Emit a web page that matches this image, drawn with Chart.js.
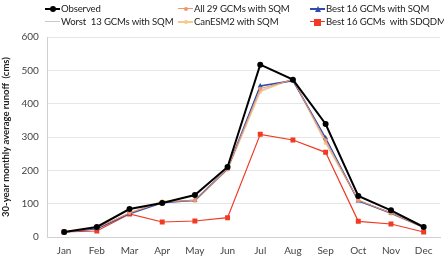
<!DOCTYPE html>
<html><head><meta charset="utf-8">
<script src="https://cdn.jsdelivr.net/npm/chart.js@4"></script>
<style>
html,body{margin:0;padding:0;background:#fff;}
#wrap{position:relative;width:444px;height:256px;overflow:hidden;}
canvas{position:absolute;left:0;top:0;}
.lg{position:absolute;font-family:Lato,"Open Sans",sans-serif;font-size:9.6px;letter-spacing:-0.15px;color:#222;white-space:pre;line-height:12px;}
.sw{position:absolute;width:15px;height:12px;}
.ln{position:absolute;left:0;top:5px;width:15px;height:0;border-top:2px solid;}
.mk{position:absolute;}
</style></head><body>
<div id="wrap"><canvas id="c" width="444" height="256"></canvas><div id="legend"></div></div>
<script>
const months = ["Jan","Feb","Mar","Apr","May","Jun","Jul","Aug","Sep","Oct","Nov","Dec"];
const observed   = [15, 30, 84, 102, 126, 210, 517, 472, 339, 123, 80, 30];
const all29SQM   = [15, 27, 72, 105, 110, 205, 445, 472, 290, 110, 72, 30];
const best16SQM  = [15, 25, 70, 103, 110, 205, 453, 469, 297, 108, 72, 30];
const worst13SQM = [15, 25, 72, 106, 108, 203, 440, 474, 285, 112, 70, 28];
const canESM2SQM = [15, 26, 72, 107, 108, 202, 436, 475, 282, 110, 70, 28];
const best16SDQDM= [15, 18, 69, 45, 48, 58, 308, 291, 254, 47, 39, 15];
const yTicks = [0,100,200,300,400,500,600];

const FONT = 'Lato, "Open Sans", sans-serif';
const series = [
 {label:"Observed", data:observed, color:"#000000", width:2, style:"circle", r:3},
 {label:"All 29 GCMs with SQM", data:all29SQM, color:"#F4956A", width:1, style:"circle", r:2},
 {label:"Best 16 GCMs with SQM", data:best16SQM, color:"#2F4DA8", width:1.5, style:"triangle", r:3},
 {label:"Worst  13 GCMs with SQM", data:worst13SQM, color:"#C8C8C8", width:1, style:false, r:0},
 {label:"CanESM2 with SQM", data:canESM2SQM, color:"#F7C98C", width:1.5, style:"circle", r:2},
 {label:"Best 16 GCMs  with SDQDM", data:best16SDQDM, color:"#F03A24", width:1.2, style:"rect", r:3.5}
];

new Chart(document.getElementById('c'), {
  type:'line',
  data:{labels:months, datasets:series.map(s=>({
    label:s.label, data:s.data, borderColor:s.color, backgroundColor:s.color,
    borderWidth:s.width, pointStyle:s.style, pointRadius:s.r, pointBorderWidth:0,
    pointBackgroundColor:s.color, tension:0
  }))},
  options:{
    responsive:false, animation:false,
    layout:{padding:{top:37,right:3,left:0,bottom:-9}},
    plugins:{legend:{display:false},tooltip:{enabled:false}},
    scales:{
      x:{offset:true, grid:{display:false, drawTicks:false}, border:{color:"#D0D0D0"},
         ticks:{color:"#444", font:{family:FONT,size:10}, padding:8}},
      y:{min:0,max:600, afterBuildTicks:ax=>{ax.ticks=yTicks.map(v=>({value:v}));},
         grid:{color:"#E6E6E6", drawTicks:false}, border:{color:"#D0D0D0"},
         ticks:{color:"#444", font:{family:FONT,size:10}, padding:9},
         title:{display:true, text:"30-year monthly average runoff  (cms)", color:"#222",
                font:{family:FONT,size:9.5,weight:'bold'}, padding:{top:0,bottom:1}}}
    }
  }
});

// HTML legend
const pos = [[45,3],[178,3],[310,3],[45,16],[178,16],[310,16]];
const lg = document.getElementById('legend');
series.forEach((s,i)=>{
  const [x,y]=pos[i];
  const sw=document.createElement('div'); sw.className='sw'; sw.style.left=x+'px'; sw.style.top=y+'px';
  const ln=document.createElement('div'); ln.className='ln'; ln.style.borderTopColor=s.color; ln.style.borderTopWidth=Math.max(1,Math.round(s.width))+'px';
  sw.appendChild(ln);
  if(s.style){
    const mk=document.createElement('div'); mk.className='mk';
    const d=Math.round(s.r*2);
    if(s.style==='triangle'){
      mk.style.left=(7.5-s.r)+'px'; mk.style.top=(6-s.r)+'px';
      mk.style.width='0';mk.style.height='0';
      mk.style.borderLeft=s.r+'px solid transparent';mk.style.borderRight=s.r+'px solid transparent';
      mk.style.borderBottom=d+'px solid '+s.color;
    } else {
      mk.style.width=d+'px';mk.style.height=d+'px';mk.style.background=s.color;
      mk.style.left=(7.5-d/2)+'px';mk.style.top=(6-d/2)+'px';
      if(s.style==='circle') mk.style.borderRadius='50%';
    }
    sw.appendChild(mk);
  }
  lg.appendChild(sw);
  const t=document.createElement('div'); t.className='lg'; t.textContent=s.label;
  t.style.left=(x+16)+'px'; t.style.top=y+'px';
  lg.appendChild(t);
});
</script>
</body></html>
